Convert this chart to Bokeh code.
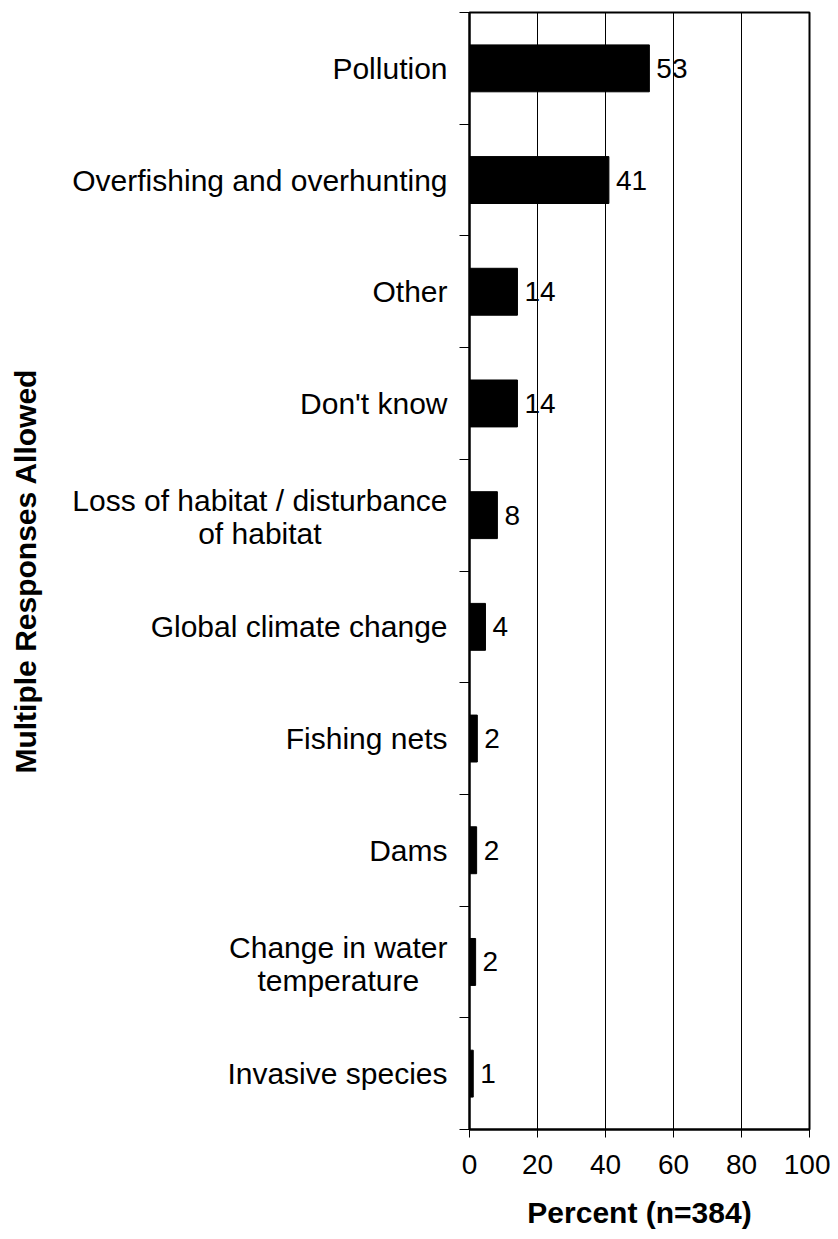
from bokeh.plotting import figure
from bokeh.models import Range1d, FixedTicker
from bokeh.layouts import row
from bokeh.core.properties import value
from bokeh.embed import file_html
from bokeh.resources import INLINE
import math

categories = [
    "Pollution",
    "Overfishing and overhunting",
    "Other",
    "Don't know",
    "Loss of habitat / disturbance\nof habitat",
    "Global climate change",
    "Fishing nets",
    "Dams",
    "Change in water\ntemperature",
    "Invasive species",
]
values = [52.9, 41.0, 14.1, 14.1, 8.2, 4.7, 2.3, 2.1, 1.8, 1.1]
value_labels = ["53", "41", "14", "14", "8", "4", "2", "2", "2", "1"]
x_ticks = [0, 20, 40, 60, 80, 100]
x_title = "Percent (n=384)"
y_title = "Multiple Responses Allowed"

FONT = "Liberation Sans"
LABEL_SIZE = 30
n = len(categories)
ypos = [n - i - 0.5 for i in range(n)]

# Arial / Liberation Sans advance widths (1/1000 em), used to centre wrapped lines
AW = {" ": 278, "/": 278, "'": 191, "a": 556, "b": 556, "c": 500, "d": 556, "e": 556,
      "f": 278, "g": 556, "h": 556, "i": 222, "k": 500, "l": 222, "m": 833, "n": 556,
      "o": 556, "p": 556, "r": 333, "s": 500, "t": 278, "u": 556, "v": 500, "w": 722,
      "C": 722, "D": 722, "F": 611, "G": 778, "I": 278, "L": 556, "O": 778, "P": 667}


def text_width(s, size):
    return sum(AW.get(ch, 556) for ch in s) * size / 1000.0


LEFT_W = 454          # width of the label panel
TOP, BOTTOM = 12, 109
HEIGHT = 1238
RIGHT_EDGE = 447      # right end of category labels, in label-panel pixels
LINE_GAP = 33.4       # distance between wrapped lines

y_range = Range1d(0, n)

# ---- label panel -----------------------------------------------------------
lp = figure(width=LEFT_W, height=HEIGHT, output_backend="svg", toolbar_location=None,
            x_range=Range1d(0, LEFT_W), y_range=y_range,
            min_border_left=0, min_border_right=0, min_border_top=TOP,
            min_border_bottom=BOTTOM)
lp.axis.visible = False
lp.grid.grid_line_color = None
lp.outline_line_color = None
lp.background_fill_color = "white"
lp.border_fill_color = "white"

tx, ty, tt, talign, toff = [], [], [], [], []
for cat, yp in zip(categories, ypos):
    lines = cat.split("\n")
    if len(lines) == 1:
        tx.append(RIGHT_EDGE); ty.append(yp); tt.append(cat)
        talign.append("right"); toff.append(0.0)
    else:
        w = max(text_width(s, LABEL_SIZE) for s in lines)
        cx = RIGHT_EDGE - w / 2
        k = len(lines)
        for j, s in enumerate(lines):
            tx.append(cx); ty.append(yp); tt.append(s)
            talign.append("center"); toff.append((j - (k - 1) / 2) * LINE_GAP + 2)

lp.text(x=tx, y=ty, text=tt, text_align=talign, y_offset=toff,
        text_baseline="middle", text_font=value(FONT),
        text_font_size=f"{LABEL_SIZE}px", text_color="black")

lp.text(x=[24.5], y=[n / 2], text=[y_title], angle=math.pi / 2, text_align="center",
        text_baseline="middle", text_font=value(FONT), text_font_style="bold",
        text_font_size="30px", text_color="black")

# ---- chart -----------------------------------------------------------------
p = figure(width=830 - LEFT_W, height=HEIGHT, output_backend="svg",
           toolbar_location=None, x_range=Range1d(0, 100), y_range=y_range,
           min_border_left=469 - LEFT_W, min_border_right=21, min_border_top=TOP,
           min_border_bottom=BOTTOM)
p.background_fill_color = "white"
p.border_fill_color = "white"
p.outline_line_color = "black"
p.outline_line_width = 2

p.hbar(y=ypos, right=values, left=0, height=0.42, fill_color="black",
       line_color="black")

p.text(x=values, y=ypos, text=value_labels, x_offset=7, text_baseline="middle",
       text_align="left", text_font=value(FONT), text_font_size="28px",
       text_color="black")

p.xaxis.ticker = FixedTicker(ticks=x_ticks)
p.xaxis.axis_line_width = 2
p.xaxis.axis_line_color = "black"
p.xaxis.major_tick_out = 8
p.xaxis.major_tick_in = 0
p.xaxis.minor_tick_line_color = None
p.xaxis.major_tick_line_color = "black"
p.xaxis.major_label_text_font = FONT
p.xaxis.major_label_text_font_size = "28px"
p.xaxis.major_label_text_color = "black"
p.xaxis.major_label_standoff = 17
p.xaxis.axis_label = x_title
p.xaxis.axis_label_text_font = FONT
p.xaxis.axis_label_text_font_style = "bold"
p.xaxis.axis_label_text_font_size = "30px"
p.xaxis.axis_label_text_color = "black"
p.xaxis.axis_label_standoff = 19

p.xgrid.ticker = FixedTicker(ticks=x_ticks)
p.xgrid.grid_line_color = "black"
p.xgrid.grid_line_width = 1
p.ygrid.grid_line_color = None

# y axis: only tick marks at category boundaries
p.yaxis.ticker = FixedTicker(ticks=[], minor_ticks=list(range(n + 1)))
p.yaxis.axis_line_width = 2
p.yaxis.axis_line_color = "black"
p.yaxis.major_tick_line_color = None
p.yaxis.minor_tick_out = 10
p.yaxis.minor_tick_in = 0
p.yaxis.minor_tick_line_color = "black"
p.yaxis.major_label_standoff = 0

layout = row(lp, p)
open("out.html", "w").write(file_html(layout, INLINE))
